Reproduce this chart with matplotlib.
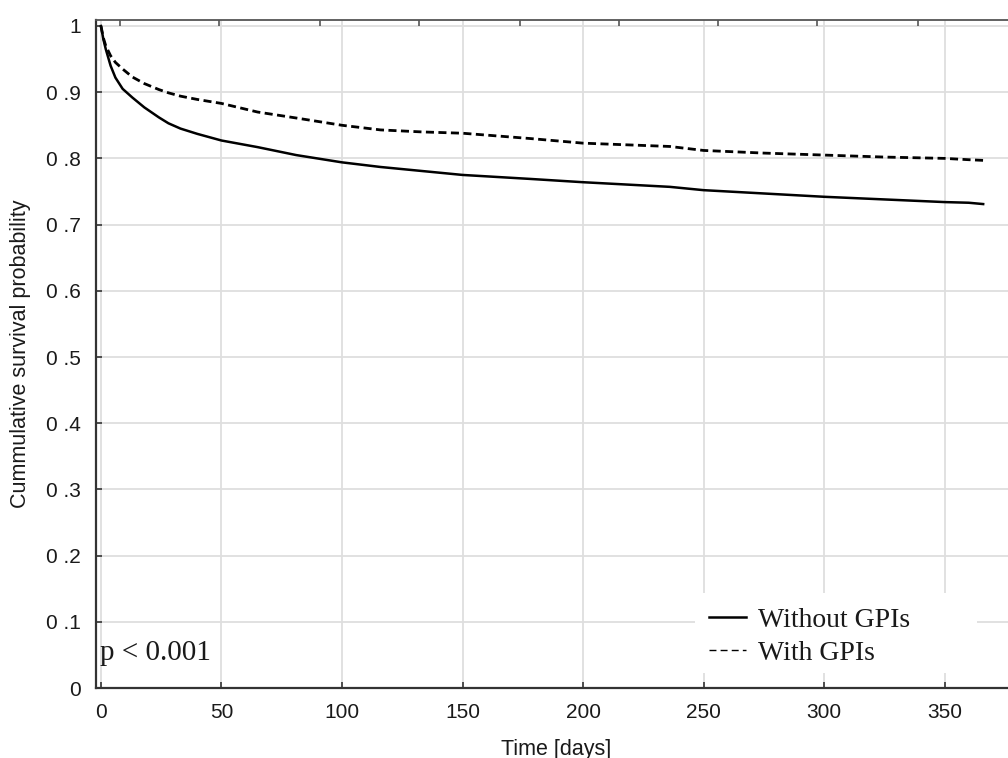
import matplotlib
matplotlib.use("Agg")
import matplotlib.pyplot as plt
from matplotlib.lines import Line2D
from matplotlib.patches import Rectangle

# survival curves
days = [0, 1, 2, 4, 6, 9, 13, 18, 24, 28, 33, 40, 50, 65, 81, 100, 116, 133,
        150, 178, 200, 236, 250, 275, 300, 325, 350, 360, 366]
without_gpis = [1.0, 0.980, 0.965, 0.940, 0.922, 0.905, 0.892, 0.877, 0.862,
                0.853, 0.845, 0.837, 0.827, 0.817, 0.805, 0.794, 0.787, 0.781,
                0.775, 0.769, 0.764, 0.757, 0.752, 0.747, 0.742, 0.738, 0.734,
                0.733, 0.731]
with_gpis = [1.0, 0.982, 0.970, 0.955, 0.945, 0.935, 0.923, 0.913, 0.904,
             0.899, 0.894, 0.889, 0.883, 0.870, 0.861, 0.850, 0.843, 0.840,
             0.838, 0.830, 0.823, 0.818, 0.812, 0.808, 0.805, 0.802, 0.800,
             0.798, 0.797]

x_ticks = [0, 50, 100, 150, 200, 250, 300, 350]
y_ticks = [0, 0.1, 0.2, 0.3, 0.4, 0.5, 0.6, 0.7, 0.8, 0.9, 1.0]
y_labels = ["0", "0 .1", "0 .2", "0 .3", "0 .4", "0 .5", "0 .6", "0 .7",
            "0 .8", "0 .9", "1"]
top_ticks = [8, 49, 91, 132, 174, 215, 256, 297, 339]
legend_labels = ["Without GPIs", "With GPIs"]

SANS = "Liberation Sans"
SERIF = "Liberation Serif"
TXT = "#1a1a1a"

fig = plt.figure(figsize=(10.08, 7.58), dpi=100)
ax = fig.add_axes([0.0952, 0.0923, 0.9048, 0.8813])
ax.set_xlim(-2.07, 376.3)
ax.set_ylim(0, 1.009)

ax.grid(True, color="#dedede", lw=1.3)
ax.set_axisbelow(True)

ax.plot(days, without_gpis, color="black", lw=1.8, solid_joinstyle="round")
ax.plot(days, with_gpis, color="black", lw=2.0, dashes=(2.9, 1.6))

ax.set_xticks(x_ticks)
ax.set_xticklabels([str(t) for t in x_ticks], fontfamily=SANS, fontsize=15,
                   color=TXT)
ax.set_yticks(y_ticks)
ax.set_yticklabels(y_labels, fontfamily=SANS, fontsize=15, color=TXT)
ax.tick_params(axis="x", direction="in", length=4, width=1.2,
               color="#333333", pad=11)
ax.tick_params(axis="y", direction="in", length=4, width=1.2,
               color="#333333", pad=11)

for side in ["left", "bottom"]:
    ax.spines[side].set_linewidth(1.6)
    ax.spines[side].set_color("#333333")
ax.spines["top"].set_linewidth(1.3)
ax.spines["top"].set_color("#555555")
ax.spines["right"].set_visible(False)

top = ax.twiny()
top.set_xlim(ax.get_xlim())
top.set_xticks(top_ticks)
top.set_xticklabels([])
top.tick_params(axis="x", direction="in", length=4, width=1.2,
                color="#555555")
for side in ["left", "bottom", "right", "top"]:
    top.spines[side].set_visible(False)

ax.set_xlabel("Time [days]", fontfamily=SANS, fontsize=15.5, color=TXT)
ax.xaxis.set_label_coords((556 - 96) / 912, -(739 - 688) / 668)
ax.set_ylabel("Cummulative survival probability", fontfamily=SANS,
              fontsize=15.5, color=TXT)
ax.yaxis.set_label_coords(-(96 - 31) / 912, 0.5)

# white patch behind the legend, hiding the grid
ax.add_patch(Rectangle((695, 758 - 673), 282, 80, transform=None,
                       facecolor="white", edgecolor="none", zorder=1.5))

handles = [Line2D([], [], color="black", lw=1.8),
           Line2D([], [], color="black", lw=1.0, dashes=(5, 3))]
leg = ax.legend(handles, legend_labels, loc="upper left",
                bbox_to_anchor=(690 / 1008, 1 - 588 / 758),
                bbox_transform=fig.transFigure, frameon=False,
                prop={"family": SERIF, "size": 20}, handlelength=1.3,
                handletextpad=0.45, labelspacing=0.27, borderpad=0.2)
for t in leg.get_texts():
    t.set_color(TXT)

ax.text(4 / 912, (688 - 660) / 668, "p < 0.001", transform=ax.transAxes,
        fontfamily=SERIF, fontsize=21, color=TXT, va="baseline", ha="left")

fig.savefig("out.png", dpi=100)
